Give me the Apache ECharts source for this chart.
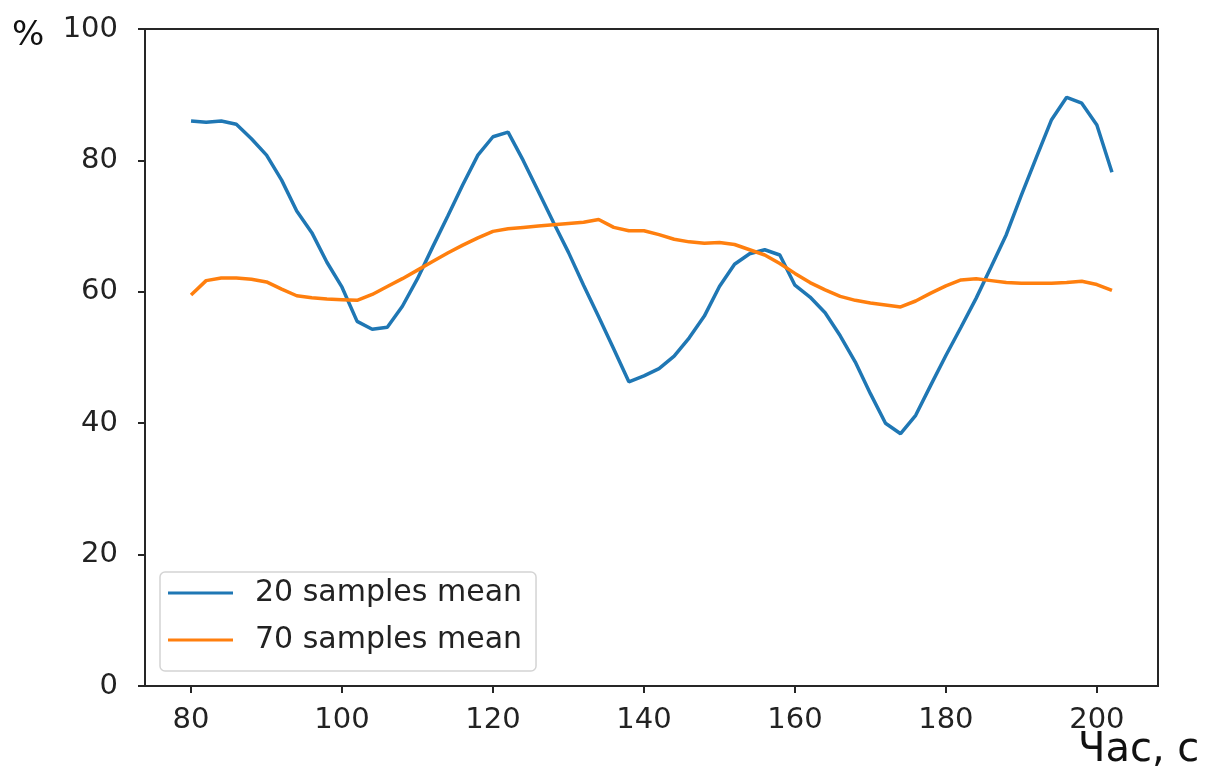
<!DOCTYPE html>
<html>
<head>
<meta charset="utf-8">
<script src="https://cdn.jsdelivr.net/npm/echarts@6/dist/echarts.min.js"></script>
<style>
  html, body { margin: 0; padding: 0; background: #fff; }
  #chart { width: 1205px; height: 771px; }
</style>
</head>
<body>
<div id="chart"></div>
<script>
// час, с
const time = [80, 82, 84, 86, 88, 90, 92, 94, 96, 98,
  100, 102, 104, 106, 108, 110, 112, 114, 116, 118,
  120, 122, 124, 126, 128, 130, 132, 134, 136, 138,
  140, 142, 144, 146, 148, 150, 152, 154, 156, 158,
  160, 162, 164, 166, 168, 170, 172, 174, 176, 178,
  180, 182, 184, 186, 188, 190, 192, 194, 196, 198,
  200, 202];

const mean20 = [86.0, 85.8, 86.0, 85.5, 83.3, 80.8, 77.0, 72.3, 69.0, 64.5,
  60.7, 55.5, 54.3, 54.6, 57.8, 62.0, 66.8, 71.5, 76.3, 80.8,
  83.6, 84.3, 80.0, 75.3, 70.6, 66.0, 61.0, 56.2, 51.3, 46.3,
  47.2, 48.3, 50.2, 53.0, 56.3, 60.8, 64.2, 65.8, 66.4, 65.6,
  61.0, 59.2, 56.8, 53.3, 49.3, 44.5, 40.0, 38.4, 41.2, 45.8,
  50.3, 54.6, 59.0, 63.8, 68.7, 74.7, 80.5, 86.2, 89.6, 88.7,
  85.4, 78.2];

const mean70 = [59.5, 61.7, 62.1, 62.1, 61.9, 61.5, 60.4, 59.4, 59.1, 58.9,
  58.8, 58.7, 59.6, 60.8, 62.0, 63.3, 64.6, 65.9, 67.1, 68.2,
  69.2, 69.6, 69.8, 70.0, 70.2, 70.4, 70.6, 71.0, 69.8, 69.3,
  69.3, 68.7, 68.0, 67.6, 67.4, 67.5, 67.2, 66.4, 65.6, 64.3,
  62.8, 61.4, 60.3, 59.3, 58.7, 58.3, 58.0, 57.7, 58.6, 59.8,
  60.9, 61.8, 62.0, 61.7, 61.4, 61.3, 61.3, 61.3, 61.4, 61.6,
  61.1, 60.2];

const xTicks = [80, 100, 120, 140, 160, 180, 200];
const legendNames = ['20 samples mean', '70 samples mean'];

const chartDom = document.getElementById('chart');
const myChart = echarts.init(chartDom);
const font = 'DejaVu Sans';

const option = {
  backgroundColor: '#fff',
  animation: false,
  grid: {
    left: 145,
    right: 47,
    top: 29,
    bottom: 85,
    show: true,
    borderColor: '#262626',
    borderWidth: 2,
    backgroundColor: 'transparent',
  },
  legend: {
    orient: 'vertical',
    left: 160,
    top: 572,
    data: legendNames,
    icon: 'rect',
    itemWidth: 65,
    itemHeight: 3,
    itemGap: 17,
    padding: [6, 14, 16, 8],
    backgroundColor: 'rgba(255,255,255,0.8)',
    borderColor: '#d4d4d4',
    borderWidth: 1.5,
    borderRadius: 5,
    textStyle: {
      fontFamily: font,
      fontSize: 30,
      lineHeight: 30,
      color: '#222',
      padding: [0, 0, 0, 17],
    },
  },
  xAxis: {
    type: 'value',
    min: 73.9,
    max: 208.1,
    splitLine: { show: false },
    axisLine: { show: true, onZero: false, lineStyle: { color: '#262626', width: 2 } },
    axisTick: {
      show: true,
      length: 7,
      customValues: xTicks,
      lineStyle: { color: '#262626', width: 2 },
    },
    axisLabel: {
      customValues: xTicks,
      margin: 20,
      fontFamily: font,
      fontSize: 29,
      color: '#222',
    },
  },
  yAxis: {
    type: 'value',
    min: 0,
    max: 100,
    interval: 20,
    splitLine: { show: false },
    axisLine: { show: true, onZero: false, lineStyle: { color: '#262626', width: 2 } },
    axisTick: { show: true, length: 7, lineStyle: { color: '#262626', width: 2 } },
    axisLabel: {
      margin: 27,
      fontFamily: font,
      fontSize: 29,
      color: '#222',
    },
  },
  graphic: [
    {
      type: 'text',
      left: 12,
      top: 19,
      style: { text: '%', fontFamily: font, fontSize: 34, fill: '#111' },
    },
    {
      type: 'text',
      left: 1078,
      top: 731,
      style: { text: 'Час, с', fontFamily: font, fontSize: 40, fill: '#111' },
    },
  ],
  series: [
    {
      name: legendNames[0],
      type: 'line',
      data: time.map((t, i) => [t, mean20[i]]),
      showSymbol: false,
      color: '#1f77b4',
      lineStyle: { width: 3.5, color: '#1f77b4' },
    },
    {
      name: legendNames[1],
      type: 'line',
      data: time.map((t, i) => [t, mean70[i]]),
      showSymbol: false,
      color: '#ff7f0e',
      lineStyle: { width: 3.5, color: '#ff7f0e' },
    },
  ],
};
myChart.setOption(option);
</script>
</body>
</html>
